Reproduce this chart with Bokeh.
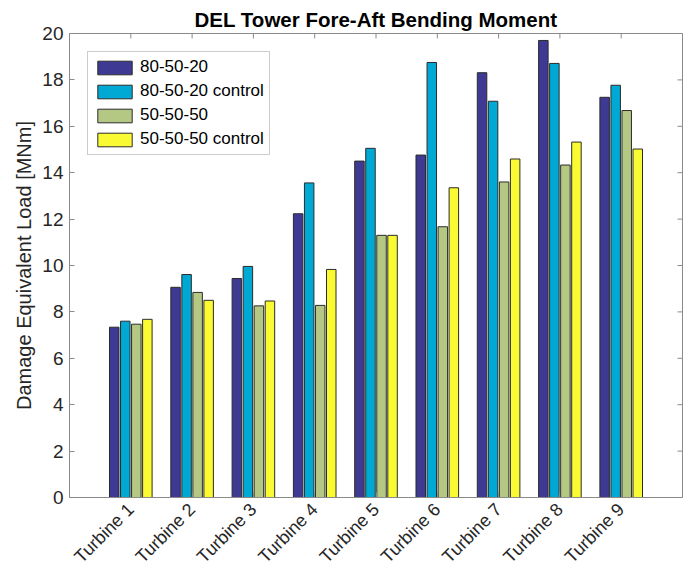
import numpy as np
from bokeh.plotting import figure
from bokeh.models import (ColumnDataSource, Range1d, FixedTicker, Legend, LegendItem)
from bokeh.transform import dodge
from bokeh.embed import file_html
from bokeh.resources import INLINE

turbines = ["Turbine 1", "Turbine 2", "Turbine 3", "Turbine 4", "Turbine 5",
            "Turbine 6", "Turbine 7", "Turbine 8", "Turbine 9"]
series_names = ["80-50-20", "80-50-20 control", "50-50-50", "50-50-50 control"]
del_8020 = [7.34, 9.06, 9.44, 12.23, 14.50, 14.76, 18.31, 19.70, 17.25]
del_8020_ctrl = [7.60, 9.61, 9.96, 13.56, 15.05, 18.75, 17.08, 18.71, 17.77]
del_5050 = [7.47, 8.84, 8.26, 8.28, 11.30, 11.67, 13.60, 14.33, 16.68]
del_5050_ctrl = [7.68, 8.50, 8.47, 9.83, 11.30, 13.35, 14.59, 15.32, 15.02]
y_ticks = [0, 2, 4, 6, 8, 10, 12, 14, 16, 18, 20]

colors = ["#3E3A93", "#00A9D3", "#B5C883", "#FAFA33"]
offsets = [-0.27, -0.09, 0.09, 0.27]
FONT = "Liberation Sans"
TXT = "#262626"
AX = "#8a8a8a"

pos = list(range(1, len(turbines) + 1))
x_end = len(turbines) + 1
y_end = y_ticks[-1]
y_start = y_ticks[0]
src = ColumnDataSource(dict(x=pos, a=del_8020, b=del_8020_ctrl,
                            c=del_5050, d=del_5050_ctrl))

p = figure(width=684, height=576, output_backend="svg", toolbar_location=None,
           x_range=Range1d(0, x_end), y_range=Range1d(y_start, y_end),
           min_border_left=69, min_border_right=2, min_border_top=33,
           min_border_bottom=77,
           title="DEL Tower Fore-Aft Bending Moment")
p.title.align = "center"
p.title.text_font = FONT
p.title.text_font_size = "20.5px"
p.title.text_font_style = "bold"
p.title.text_color = "#000000"
p.title.standoff = 5

p.xgrid.visible = False
p.ygrid.visible = False
p.outline_line_color = AX
p.outline_line_width = 1

renderers = []
for col, off, c in zip(["a", "b", "c", "d"], offsets, colors):
    r = p.vbar(x=dodge("x", off, range=p.x_range), top=col, width=0.155,
               source=src, fill_color=c, line_color="#2b2b2b", line_width=1)
    renderers.append(r)

# inward ticks along the top and right edges of the box
p.scatter(x=pos, y=[y_end] * len(pos), marker="dash", size=10, angle=np.pi / 2,
          line_color=AX, line_width=1)
p.scatter(x=[x_end] * len(y_ticks), y=y_ticks, marker="dash", size=10,
          line_color=AX, line_width=1)

# axes
xa = p.xaxis[0]
xa.ticker = FixedTicker(ticks=pos)
xa.major_label_overrides = {i: t for i, t in zip(pos, turbines)}
xa.major_label_orientation = np.pi / 4
ya = p.yaxis[0]
ya.ticker = FixedTicker(ticks=y_ticks)
ya.axis_label = "Damage Equivalent Load [MNm]"
ya.axis_label_text_font_style = "normal"
ya.axis_label_text_font_size = "20px"
ya.axis_label_text_font = FONT
ya.axis_label_text_color = TXT
ya.axis_label_standoff = 4

for ax in (xa, ya):
    ax.major_tick_in = 5
    ax.major_tick_out = 0
    ax.minor_tick_line_color = None
    ax.axis_line_color = AX
    ax.major_tick_line_color = AX
    ax.major_label_text_font = FONT
    ax.major_label_text_color = TXT
ya.major_label_text_font_size = "19px"
xa.major_label_text_font_size = "18px"
ya.major_label_standoff = 6
xa.major_label_standoff = 9

legend = Legend(items=[LegendItem(label=n, renderers=[r])
                       for n, r in zip(series_names, renderers)],
                location="top_left", margin=18, padding=5, spacing=4,
                glyph_width=43, glyph_height=17, label_height=17,
                label_standoff=4, label_text_font=FONT,
                label_text_font_size="17px", label_text_color="#000000",
                border_line_color="#999999", border_line_width=1,
                background_fill_color="white", background_fill_alpha=1)
p.add_layout(legend, "center")

open("out.html", "w").write(file_html(p, INLINE))
